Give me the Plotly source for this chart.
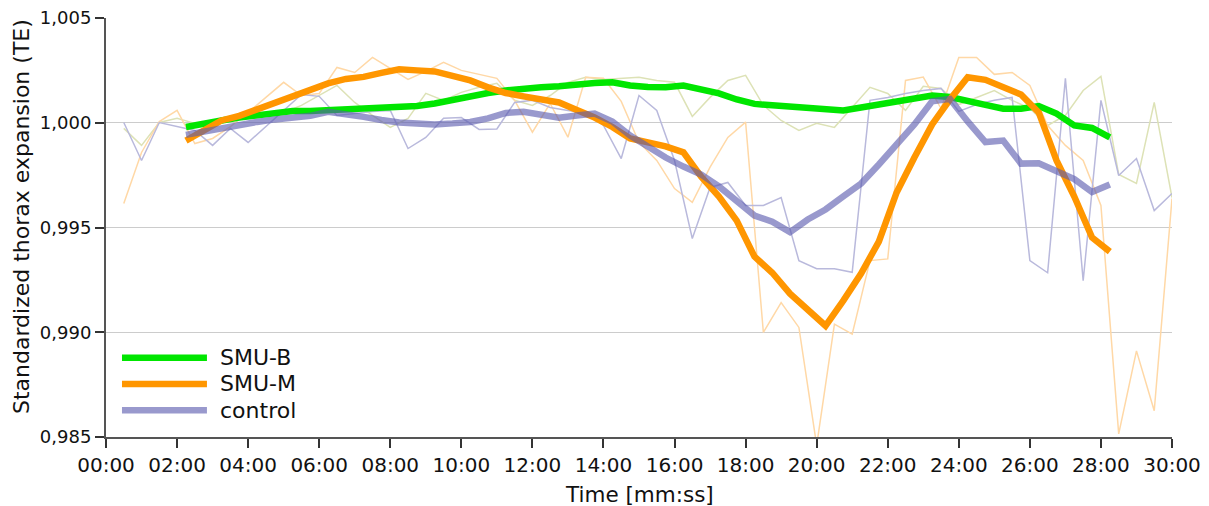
import numpy as np
import plotly.graph_objects as go

# Sampling grid: raw values every 30 s, running means centred on a 4-min window
raw_minutes = np.arange(1, 61) * 0.5
avg_minutes = 2.25 + 0.5 * np.arange(53)

# Raw standardized thorax expansion per group
smu_b_raw = [0.99973, 0.99892, 1.00001, 1.00021, 0.99997, 0.99987, 1.00021, 1.00044, 1.00049,
             1.00049, 1.00083, 1.00130, 1.00178, 1.00097, 1.00035, 0.99978, 1.00021, 1.00140, 1.00107,
             1.00145, 1.00169, 1.00188, 1.00107, 1.00083, 1.00130, 1.00193, 1.00217, 1.00207, 1.00212,
             1.00217, 1.00202, 1.00193, 1.00030, 1.00121, 1.00202, 1.00226, 1.00083, 1.00011, 0.99963,
             0.99997, 0.99978, 1.00073, 1.00169, 1.00140, 1.00059, 1.00174, 1.00164, 1.00087, 1.00121,
             1.00154, 1.00107, 1.00068, 0.99987, 1.00035, 1.00154, 1.00221, 0.99753, 0.99710, 1.00097,
             0.99643]
smu_m_raw = [0.99614, 0.99858, 1.00006, 1.00059, 0.99901, 0.99925, 0.99982, 1.00049, 1.00121,
             1.00193, 1.00130, 1.00140, 1.00264, 1.00240, 1.00312, 1.00260, 1.00207, 1.00245, 1.00288,
             1.00250, 1.00231, 1.00212, 1.00107, 0.99955, 1.00092, 0.99931, 1.00217, 1.00212, 1.00102,
             0.99906, 0.99820, 0.99686, 0.99620, 0.99788, 0.99930, 1.00003, 0.98999, 0.99142, 0.99023,
             0.98460, 0.99039, 0.98991, 0.99342, 0.99350, 1.00202, 1.00218, 1.00068, 1.00312, 1.00312,
             1.00231, 1.00240, 1.00178, 0.99987, 0.99892, 0.99820, 0.99605, 0.98515, 0.98911, 0.98625,
             0.99638]
control_raw = [1.00001, 0.99820, 1.00001, 0.99982, 0.99963, 0.99892, 0.99973, 0.99906, 0.99982,
               1.00059, 1.00135, 1.00126, 1.00035, 1.00044, 1.00054, 1.00059, 0.99877, 0.99930, 1.00021,
               1.00025, 0.99968, 0.99970, 1.00097, 1.00107, 1.00073, 1.00059, 1.00049, 0.99987, 0.99829,
               1.00130, 1.00059, 0.99820, 0.99447, 0.99691, 0.99715, 0.99605, 0.99605, 0.99643, 0.99342,
               0.99303, 0.99303, 0.99286, 1.00107, 1.00121, 1.00140, 1.00154, 1.00164, 1.00054, 1.00087,
               1.00107, 1.00121, 0.99342, 0.99284, 1.00212, 0.99246, 1.00107, 0.99748, 0.99829, 0.99581,
               0.99662]

# Running means per group
smu_b_avg = [0.99980, 0.99992, 1.00011, 1.00025, 1.00035, 1.00049, 1.00056, 1.00056, 1.00059, 1.00064,
             1.00068, 1.00073, 1.00078, 1.00080, 1.00092, 1.00111, 1.00130, 1.00142, 1.00154, 1.00164,
             1.00169, 1.00174, 1.00183, 1.00190, 1.00193, 1.00178, 1.00171, 1.00169, 1.00178, 1.00162,
             1.00140, 1.00111, 1.00090, 1.00083, 1.00076, 1.00071, 1.00061, 1.00059, 1.00073, 1.00087,
             1.00104, 1.00119, 1.00130, 1.00123, 1.00107, 1.00085, 1.00067, 1.00067, 1.00080, 1.00044,
             0.99987, 0.99975, 0.99930]
smu_m_avg = [0.99915, 0.99963, 1.00011, 1.00033, 1.00064, 1.00099, 1.00131, 1.00164, 1.00188, 1.00209,
             1.00219, 1.00238, 1.00255, 1.00250, 1.00245, 1.00224, 1.00202, 1.00169, 1.00142, 1.00126,
             1.00114, 1.00097, 1.00061, 1.00025, 0.99980, 0.99925, 0.99906, 0.99887, 0.99859, 0.99743,
             0.99648, 0.99533, 0.99361, 0.99284, 0.99184, 0.99103, 0.99031, 0.99151, 0.99280, 0.99433,
             0.99667, 0.99834, 0.99992, 1.00111, 1.00217, 1.00205, 1.00174, 1.00135, 1.00049, 0.99820,
             0.99648, 0.99452, 0.99385]
control_avg = [0.99942, 0.99958, 0.99975, 0.99992, 1.00004, 1.00016, 1.00023, 1.00033, 1.00052, 1.00042,
               1.00028, 1.00013, 1.00001, 0.99997, 0.99992, 0.99997, 1.00004, 1.00021, 1.00047, 1.00052,
               1.00040, 1.00024, 1.00035, 1.00044, 1.00006, 0.99939, 0.99887, 0.99834, 0.99791, 0.99753,
               0.99696, 0.99624, 0.99557, 0.99528, 0.99478, 0.99538, 0.99586, 0.99648, 0.99710, 0.99801,
               0.99892, 0.99992, 1.00102, 1.00114, 1.00006, 0.99908, 0.99915, 0.99805, 0.99807, 0.99765,
               0.99731, 0.99669, 0.99705]

series_names = ["SMU-B", "SMU-M", "control"]
x_tick_minutes = list(range(0, 31, 2))
x_tick_labels = ["00:00", "02:00", "04:00", "06:00", "08:00", "10:00", "12:00", "14:00",
                 "16:00", "18:00", "20:00", "22:00", "24:00", "26:00", "28:00", "30:00"]
y_tick_values = [0.985, 0.990, 0.995, 1.000, 1.005]
y_tick_labels = ["0,985", "0,990", "0,995", "1,000", "1,005"]

FONT = "DejaVu Sans"
TEXT = "#111111"
thick_colors = ["#00e600", "#ff9600", "rgba(90,90,175,0.62)"]
thin_colors = ["#dde2b6", "#ffd8a6", "#b9b9dc"]

fig = go.Figure()

for y_raw, col in zip([smu_b_raw, smu_m_raw, control_raw], thin_colors):
    fig.add_trace(go.Scatter(x=raw_minutes, y=y_raw, mode="lines",
                             line=dict(color=col, width=1.5), showlegend=False,
                             hoverinfo="skip"))

for name, y_avg, col in zip(series_names, [smu_b_avg, smu_m_avg, control_avg], thick_colors):
    fig.add_trace(go.Scatter(x=avg_minutes, y=y_avg, mode="lines", name=name,
                             line=dict(color=col, width=6.5), showlegend=False))

# Legend drawn as line samples with labels in the lower-left corner
legend_rows = [0.1893, 0.1265, 0.0637]
shapes = []
annotations = []
for name, col, yrow in zip(series_names, thick_colors, legend_rows):
    shapes.append(dict(type="line", xref="paper", yref="paper",
                       x0=0.0150, x1=0.0947, y0=yrow, y1=yrow,
                       line=dict(color=col, width=6.5)))
    annotations.append(dict(xref="paper", yref="paper", x=0.1053, y=yrow,
                            text=name, showarrow=False, xanchor="left", yanchor="middle",
                            font=dict(family=FONT, size=22, color=TEXT)))

# Axis titles
annotations.append(dict(xref="paper", yref="paper", x=0.5, y=0, yshift=-57,
                        text="Time [mm:ss]", showarrow=False,
                        xanchor="center", yanchor="middle",
                        font=dict(family=FONT, size=21.5, color=TEXT)))
annotations.append(dict(xref="paper", yref="paper", x=0, xshift=-85, y=0.525,
                        text="Standardized thorax expansion (TE)", showarrow=False,
                        textangle=-90, xanchor="center", yanchor="middle",
                        font=dict(family=FONT, size=22, color=TEXT)))

fig.update_layout(
    width=1209, height=506,
    margin=dict(l=106, r=37, t=18, b=69),
    paper_bgcolor="white", plot_bgcolor="white",
    font=dict(family=FONT, color=TEXT),
    shapes=shapes, annotations=annotations,
    xaxis=dict(range=[0, 30], tickvals=x_tick_minutes, ticktext=x_tick_labels,
               automargin=False,
               showgrid=False, zeroline=False, showline=True, linecolor="#555", linewidth=2,
               ticks="outside", ticklen=9, tickcolor="#333", tickwidth=1.5,
               tickfont=dict(size=20, family=FONT, color=TEXT)),
    yaxis=dict(range=[0.985, 1.005], tickvals=y_tick_values, ticktext=y_tick_labels,
               automargin=False,
               showgrid=True, gridcolor="#cccccc", gridwidth=1, zeroline=False,
               showline=True, linecolor="#555", linewidth=2,
               ticks="outside", ticklen=9, tickcolor="#333", tickwidth=1.5,
               tickfont=dict(size=18, family=FONT, color=TEXT)),
)

fig.write_html("out.html")
